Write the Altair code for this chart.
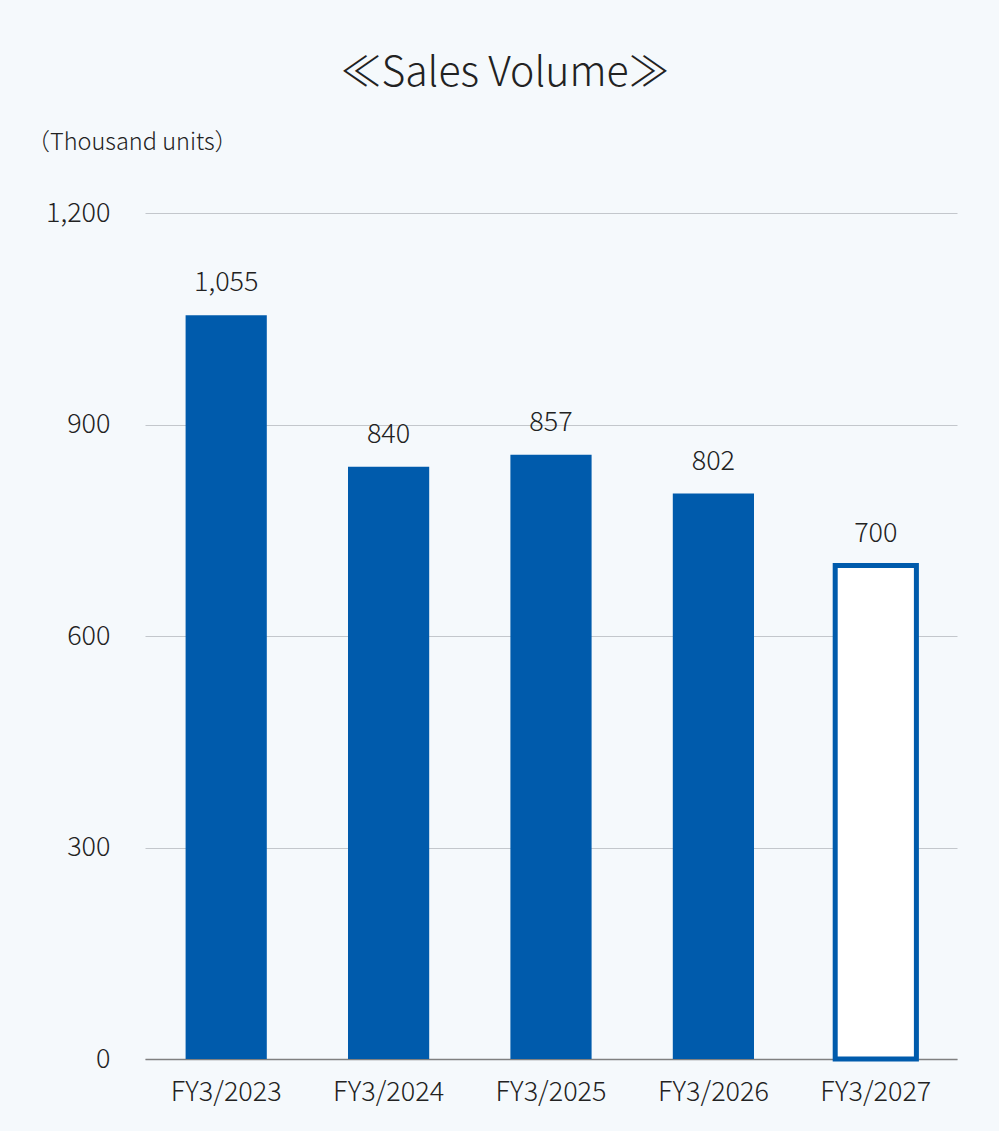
import altair as alt
import pandas as pd

categories = ["FY3/2023", "FY3/2024", "FY3/2025", "FY3/2026", "FY3/2027"]
values = [1055, 840, 857, 802, 700]
kinds = ["actual", "actual", "actual", "actual", "forecast"]
y_ticks = [0, 300, 600, 900, 1200]

df = pd.DataFrame({"cat": categories, "val": values, "kind": kinds})

FONT = "Noto Sans CJK JP"
BLUE = "#005BAC"
TXT = "#222222"
W = 300

x = alt.X("cat:N", sort=categories, title=None,
          scale=alt.Scale(paddingInner=0.5, paddingOuter=0.25),
          axis=alt.Axis(labelAngle=0, labelFontSize=27, labelFont=FONT, labelColor=TXT,
                        labelFontWeight=W,
                        ticks=False, labelPadding=20, domain=True,
                        domainColor="#808080", domainWidth=1.5, grid=False))
y = alt.Y("val:Q", scale=alt.Scale(domain=[0, 1200], nice=False),
          axis=alt.Axis(values=y_ticks, format=",d", title="（Thousand units）",
                        titleAngle=0, titleX=-119, titleY=-71, titleAlign="left",
                        titleBaseline="middle", titleFontSize=23.5, titleFont=FONT,
                        titleFontWeight=W, titleColor=TXT,
                        labelFontSize=27, labelFont=FONT, labelColor=TXT, labelFontWeight=W,
                        labelPadding=35, ticks=False, domain=False,
                        grid=True, gridColor="#C3C7CC", gridWidth=1.2))

bars = alt.Chart(df).mark_bar().encode(
    x=x, y=y,
    fill=alt.Fill("kind:N", scale=alt.Scale(domain=["actual", "forecast"], range=[BLUE, "#FFFFFF"]), legend=None),
    stroke=alt.Stroke("kind:N", scale=alt.Scale(domain=["actual", "forecast"], range=[BLUE, BLUE]), legend=None),
    strokeWidth=alt.StrokeWidth("kind:N", scale=alt.Scale(domain=["actual", "forecast"], range=[0, 5]), legend=None),
)

labels = alt.Chart(df).mark_text(baseline="alphabetic", dy=-24, fontSize=27, font=FONT,
                                 fontWeight=W, color=TXT).encode(
    x=alt.X("cat:N", sort=categories), y="val:Q", text=alt.Text("val:Q", format=",d")
)

chart = alt.layer(bars, labels).properties(
    width=812, height=846,
    title=alt.TitleParams("≪Sales Volume≫", fontSize=41, font=FONT, fontWeight=W,
                          color=TXT, anchor="middle", dx=-46, offset=35),
    autosize=alt.AutoSizeParams(type="none"),
    padding={"left": 145, "top": 213, "right": 42, "bottom": 72},
    background="#F5F9FC",
).configure_view(stroke=None)

chart.save("out.html", embed_options={"renderer": "svg", "actions": False})
